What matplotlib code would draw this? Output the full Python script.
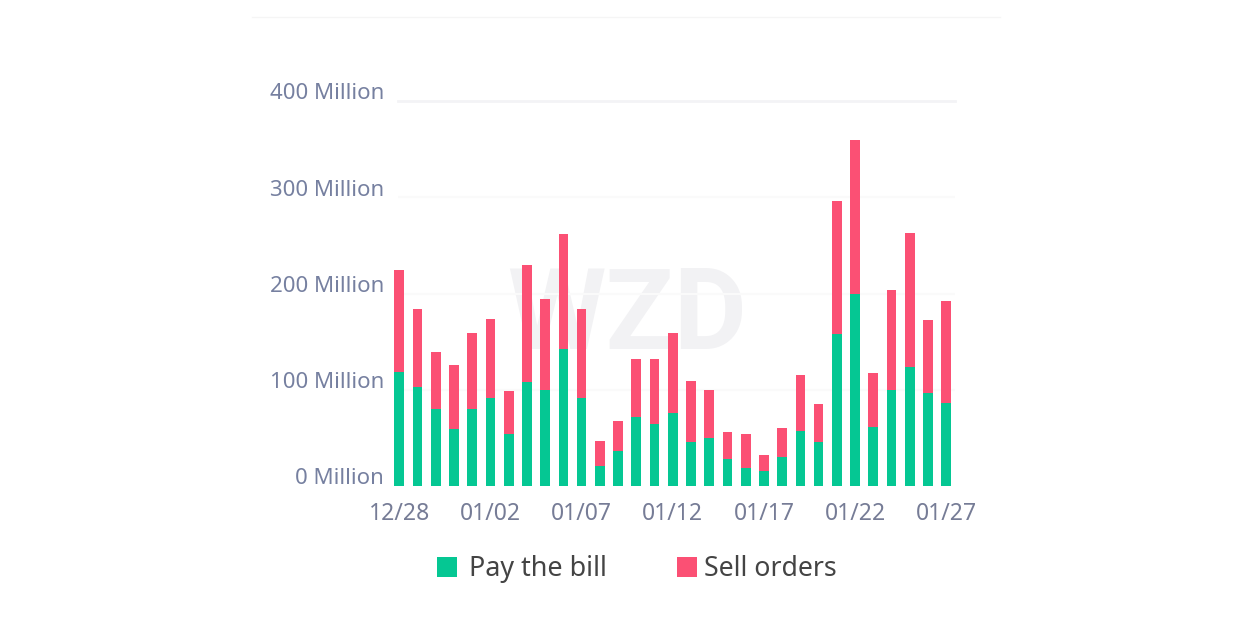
import matplotlib.pyplot as plt
from matplotlib.lines import Line2D
from matplotlib.patches import Rectangle
from matplotlib.transforms import ScaledTranslation

# in millions
dates = ['12/28', '12/29', '12/30', '12/31', '01/01', '01/02', '01/03', '01/04', '01/05', '01/06', '01/07',
         '01/08', '01/09', '01/10', '01/11', '01/12', '01/13', '01/14', '01/15', '01/16', '01/17',
         '01/18', '01/19', '01/20', '01/21', '01/22', '01/23', '01/24', '01/25', '01/26', '01/27']
pay_bill = [118, 103, 80, 59, 80, 91, 54, 108, 100, 142, 91,
            21, 36, 72, 64, 76, 46, 50, 28, 19, 16,
            30, 57, 46, 158, 199, 61, 100, 124, 97, 86]
sell_orders = [106, 81, 59, 67, 79, 83, 45, 122, 94, 120, 93,
               26, 32, 60, 68, 83, 63, 50, 28, 35, 16,
               30, 58, 39, 138, 160, 56, 104, 139, 75, 106]
tick_labels = dates[::5]
y_ticks = [0, 100, 200, 300, 400]

W, H = 1254, 641
GREEN = '#05C793'
PINK = '#FB5074'

plt.rcParams['font.family'] = 'Noto Sans'

fig = plt.figure(figsize=(12.54, 6.41), dpi=100)
ax = fig.add_axes([398 / W, 1 - 486 / H, 557 / W, 385 / H])
ax.patch.set_visible(False)

x = list(range(len(dates)))
ax.bar(x, pay_bill, width=0.53, color=GREEN, label='Pay the bill', clip_on=False, zorder=2)
ax.bar(x, sell_orders, width=0.53, bottom=pay_bill, color=PINK, label='Sell orders', clip_on=False, zorder=2)

ax.set_xlim(-0.07, 30.48)
ax.set_ylim(0, 400)
ax.set_yticks(y_ticks)
ax.set_yticklabels([f'{v} Million' for v in y_ticks])
ax.set_xticks(x[::5])
ax.set_xticklabels(tick_labels)
ax.tick_params(axis='y', length=0, labelsize=16, labelcolor='#7680A0', pad=10)
ax.tick_params(axis='x', length=0, labelsize=16.5, labelcolor='#767C96', pad=11.5)

# y labels sit above their gridlines in the original
up = ScaledTranslation(0, 7 / 72, fig.dpi_scale_trans)
for label in ax.get_yticklabels():
    label.set_transform(label.get_transform() + up)

for v in y_ticks[1:]:
    if v == 400:
        ax.axhline(v, color='#F3F3F6', linewidth=2, zorder=1, clip_on=False)
    else:
        ax.axhline(v, color='#FAFAFA', linewidth=1.5, zorder=1)
for side in ax.spines:
    ax.spines[side].set_visible(False)

# watermark, behind the bars
fig.text(627 / W, 1 - 318 / H, 'WZD', fontsize=81, fontweight='bold', family='Roboto', color='#F2F2F4',
         ha='center', va='center', zorder=-1)

# thin line at the top of the card
fig.add_artist(Line2D([252 / W, 1000 / W], [1 - 17 / H, 1 - 17 / H], color='#F5F5F5', linewidth=1))

# legend
fig.add_artist(Rectangle((437 / W, 1 - 577 / H), 20 / W, 20 / H, facecolor=GREEN, linewidth=0,
                         transform=fig.transFigure))
fig.add_artist(Rectangle((677 / W, 1 - 577 / H), 20 / W, 20 / H, facecolor=PINK, linewidth=0,
                         transform=fig.transFigure))
fig.text(469 / W, 1 - 576 / H, 'Pay the bill', fontsize=19.4, color='#444444', va='baseline')
fig.text(704 / W, 1 - 576 / H, 'Sell orders', fontsize=19.2, color='#444444', va='baseline')

fig.savefig('out.png', dpi=100)
